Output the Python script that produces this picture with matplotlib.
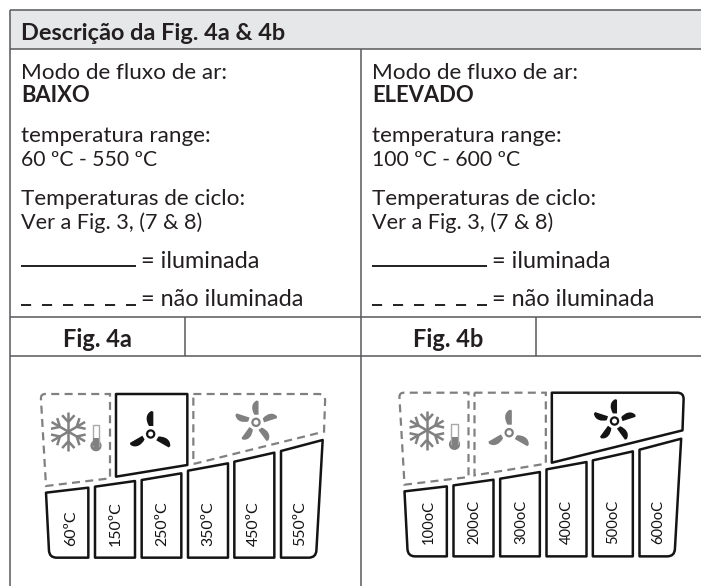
import numpy as np
import matplotlib
matplotlib.use("Agg")
import matplotlib.pyplot as plt
from matplotlib.patches import PathPatch, Circle, Rectangle
from matplotlib.path import Path

plt.rcParams['font.family'] = ['Lato', 'DejaVu Sans']

title = "Descrição da Fig. 4a & 4b"
modes = ["BAIXO", "ELEVADO"]
ranges = ["60 ºC - 550 ºC", "100 ºC - 600 ºC"]
figs = ["Fig. 4a", "Fig. 4b"]
temps_a = ["60ºC", "150ºC", "250ºC", "350ºC", "450ºC", "550ºC"]
temps_b = ["100oC", "200oC", "300oC", "400oC", "500oC", "600oC"]

LINE = "#58595b"
HEAD = "#e6e7e8"
TXT = "#231f20"
GREY = "#808080"
BLACK = "#141414"

# outlines of the panel, measured on the 3x zoom, with rounded corners {index: radius}
snow_box = ([(62, 42), (270, 42), (270, 295), (78, 318)], {0: 14})
mid_box = ([(288, 42), (502, 42), (502, 255), (288, 290)], {})
high_box = ([(520, 42), (916, 42), (912, 155), (520, 252)], {1: 20})
segments = [
    ([(78, 338), (205, 323), (205, 533), (88, 533)], {3: 22}),
    ([(225, 320), (345, 303), (345, 533), (225, 533)], {}),
    ([(365, 300), (484, 280), (484, 533), (365, 533)], {}),
    ([(504, 272), (624, 250), (624, 533), (504, 533)], {}),
    ([(643, 245), (763, 218), (763, 533), (643, 533)], {}),
    ([(783, 213), (908, 180), (888, 533), (783, 533)], {2: 22}),
]
seg_label_x = [152, 288, 427, 565, 703, 840]

fig = plt.figure(figsize=(7.01, 5.86), dpi=100)
ax = fig.add_axes([0, 0, 1, 1])
ax.set_xlim(0, 701)
ax.set_ylim(586, 0)
ax.axis('off')


def hline(y, x0=10, x1=701):
    ax.plot([x0, x1], [y, y], color=LINE, lw=1.1, solid_capstyle='butt')


def vline(x, y0, y1):
    ax.plot([x, x], [y0, y1], color=LINE, lw=1.1, solid_capstyle='butt')


ax.add_patch(Rectangle((10, 10), 691, 39, fc=HEAD, ec='none'))
hline(10)
hline(49)
hline(317)
hline(356)
vline(10, 10, 586)
vline(361, 49, 586)
vline(185, 317, 356)
vline(536, 317, 356)

FS = 16.2
ax.text(21, 39.5, title, fontsize=16.9, fontweight='bold', color=TXT)


def text_column(x, i):
    ax.text(x, 79, "Modo de fluxo de ar:", fontsize=FS, color=TXT)
    ax.text(x, 102, modes[i], fontsize=15.8, fontweight='bold', color=TXT)
    ax.text(x, 142, "temperatura range:", fontsize=FS, color=TXT)
    ax.text(x, 166, ranges[i], fontsize=15.2, color=TXT)
    ax.text(x, 205, "Temperaturas de ciclo:", fontsize=FS, color=TXT)
    ax.text(x, 229, "Ver a Fig. 3, (7 & 8)", fontsize=15.6, color=TXT)
    ax.plot([x, x + 115], [266, 266], color=TXT, lw=1.4, solid_capstyle='butt')
    ax.text(x + 120, 268, "= iluminada", fontsize=16.9, color=TXT)
    ax.plot([x, x + 115], [305, 305], color=TXT, lw=1.4, dashes=(5.2, 5.6))
    ax.text(x + 120, 306, "= não iluminada", fontsize=16.9, color=TXT)
    ax.text(x + 76, 347, figs[i], fontsize=17, fontweight='bold', color=TXT, ha='center')


def rounded_path(pts, corners, to_px):
    verts = []
    codes = []
    n = len(pts)
    for k in range(n):
        p = np.array(pts[k], float)
        if k in corners:
            r = corners[k]
            u0 = np.array(pts[k - 1], float) - p
            u1 = np.array(pts[(k + 1) % n], float) - p
            a = p + u0 / np.linalg.norm(u0) * r
            b = p + u1 / np.linalg.norm(u1) * r
            verts += [a, p, b]
            codes += [Path.LINETO, Path.CURVE3, Path.CURVE3]
        else:
            verts.append(p)
            codes.append(Path.LINETO)
    codes[0] = Path.MOVETO
    verts.append(verts[0])
    codes.append(Path.CLOSEPOLY)
    return Path([to_px(*v) for v in verts], codes)


def blade_path(cx, cy, ang, scale, to_px):
    # one blade: flat side, square tip, bulged back
    verts = [(24, 8), (67, 8), (69, 2), (60, -16), (40, -15), (24, -5), (24, 8)]
    codes = [Path.MOVETO, Path.LINETO, Path.LINETO, Path.CURVE4, Path.CURVE4, Path.CURVE4, Path.CLOSEPOLY]
    a = np.radians(ang)
    out = []
    for r, w in verts:
        r = r * scale
        w = w * scale
        px = cx + r * np.cos(a) + w * np.sin(a)
        py = cy - r * np.sin(a) + w * np.cos(a)
        out.append(to_px(px, py))
    return Path(out, codes)


def draw_fan(cx, cy, angles, scale, col, to_px):
    for ang in angles:
        ax.add_patch(PathPatch(blade_path(cx, cy, ang, scale, to_px), fc=col, ec='none'))
    ax.add_patch(Circle(to_px(cx, cy), 3.6, fc='white', ec=col, lw=1.6))


def draw_snow(cx, cy, r, to_px):
    for ang in [90, 30, -30]:
        a = np.radians(ang)
        d = np.array([np.cos(a), -np.sin(a)])
        n = np.array([d[1], -d[0]])
        c = np.array([cx, cy])
        p0 = to_px(*(c - d * r))
        p1 = to_px(*(c + d * r))
        ax.plot([p0[0], p1[0]], [p0[1], p1[1]], color=GREY, lw=1.8, solid_capstyle='butt')
        for s in [-1, 1]:
            base = c + s * d * r * 0.5
            tip = c + s * d * r * 0.85
            for t in [-1, 1]:
                q0 = to_px(*base)
                q1 = to_px(*(tip + t * n * r * 0.32))
                ax.plot([q0[0], q1[0]], [q0[1], q1[1]], color=GREY, lw=1.8, solid_capstyle='butt')


def draw_thermo(cx, top, bulb, to_px):
    x0, y0 = to_px(cx, top)
    x1, y1 = to_px(cx, bulb)
    ax.plot([x0 - 3.2, x0 - 3.2, x0 + 3.2, x0 + 3.2], [y1, y0 + 2, y0 + 2, y1], color='#a8a8a8', lw=1.0)
    ax.plot([x0, x0], [y0 + 15, y1], color=GREY, lw=4.2, solid_capstyle='butt')
    ax.add_patch(Circle((x1, y1), 5.6, fc=GREY, ec='none'))


def draw_panel(dx, dy, lit, labels, label_fs):
    def to_px(zx, zy):
        return 20 + zx / 3 + dx, 380 + zy / 3 + dy

    boxes = [snow_box, mid_box, high_box]
    for k, (box, corners) in enumerate(boxes):
        path = rounded_path(box, corners, to_px)
        if k == lit:
            ax.add_patch(PathPatch(path, fc='none', ec=BLACK, lw=1.8, joinstyle='round'))
        else:
            ax.add_patch(PathPatch(path, fc='none', ec=GREY, lw=1.6, ls=(0, (3.6, 2.4))))
    for (seg, corners), lx, lab in zip(segments, seg_label_x, labels):
        ax.add_patch(PathPatch(rounded_path(seg, corners, to_px), fc='none', ec=BLACK, lw=1.8, joinstyle='round'))
        px, py = to_px(lx, 497)
        ax.text(px, py, lab, fontsize=label_fs, rotation=90, ha='center', va='bottom', color=BLACK)
    draw_snow(145, 155, 58, to_px)
    draw_thermo(228, 130, 197, to_px)
    draw_fan(392, 162, [90, 210, 330], 1.0, BLACK if lit == 1 else GREY, to_px)
    draw_fan(708, 127, [90, 162, 234, 306, 18], 0.95, BLACK if lit == 2 else GREY, to_px)


text_column(21, 0)
text_column(372, 1)
draw_panel(0, 0, 1, temps_a, 11.4)
draw_panel(358.5, -1.3, 2, temps_b, 10.6)

fig.savefig("out.png", dpi=100)
